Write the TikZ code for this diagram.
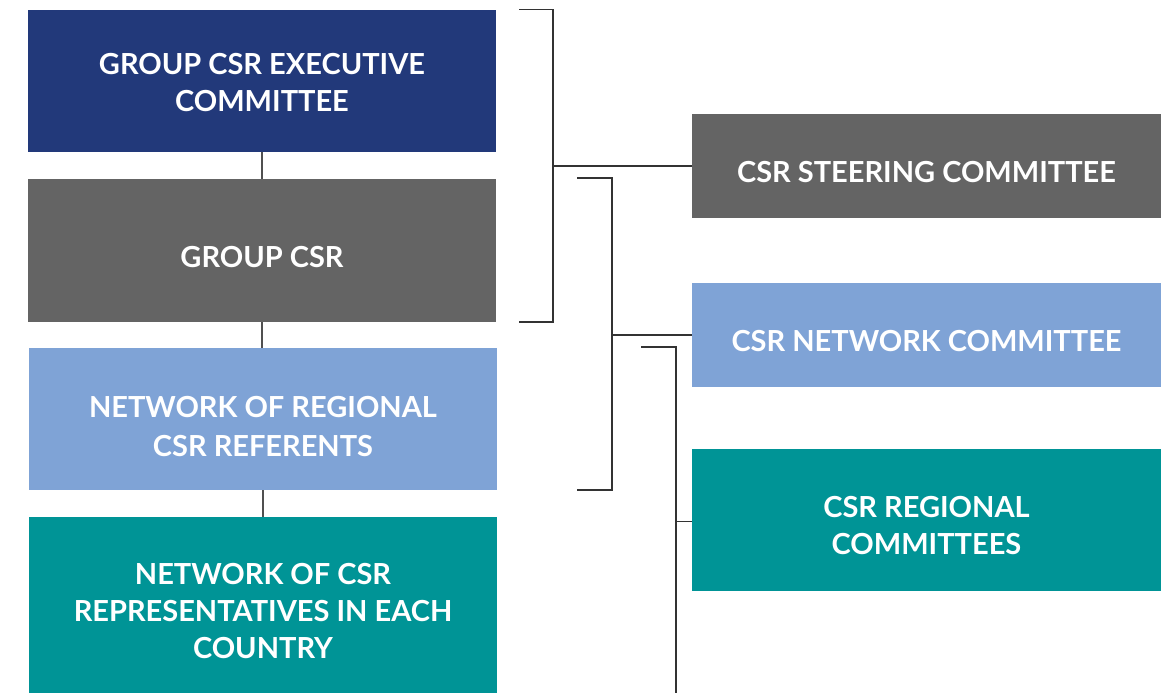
\documentclass[tikz,border=0pt]{standalone}
\usepackage{fontspec}
\setmainfont{Lato}[BoldFont={Lato Bold}]
\definecolor{cdark}{HTML}{22397A}
\definecolor{cgray}{HTML}{646464}
\definecolor{clight}{HTML}{7FA3D6}
\definecolor{cteal}{HTML}{009496}
\definecolor{cline}{HTML}{333333}
\tikzset{
  box/.style={rectangle, inner sep=0pt, minimum width=468pt},
  txt/.style={inner sep=0pt, text=white, align=center,
    font=\fontsize{29}{37}\selectfont\bfseries},
  conn/.style={draw=cline, line width=1.5pt},
}
\begin{document}
\begin{tikzpicture}[x=1pt,y=-1pt]
\useasboundingbox (0,0) rectangle (1167,693);
\clip (0,0) rectangle (1167,693);
% left column
\node[box, fill=cdark, minimum height=142pt] (b1) at (262,81) {};
\node[box, fill=cgray, minimum height=143pt] (b2) at (262,250.5) {};
\node[box, fill=clight, minimum height=142pt] (b3) at (263,419) {};
\node[box, fill=cteal, minimum height=188pt] (b4) at (263,611) {};
\node[txt] (t1) at ([yshift=-2pt]b1.center) {GROUP CSR EXECUTIVE\\COMMITTEE};
\node[txt] (t2) at ([yshift=-6.5pt]b2.center) {GROUP CSR};
\node[txt, font=\fontsize{29}{39}\selectfont\bfseries] (t3) at ([yshift=-8pt]b3.center) {NETWORK OF REGIONAL\\CSR REFERENTS};
\node[txt] (t4) at (b4.center) {NETWORK OF CSR\\REPRESENTATIVES IN EACH\\COUNTRY};
% right column
\node[box, fill=cgray, minimum width=469pt, minimum height=104pt] (r1) at (926.5,166) {};
\node[box, fill=clight, minimum width=469pt, minimum height=104pt] (r2) at (926.5,335) {};
\node[box, fill=cteal, minimum width=469pt, minimum height=142pt] (r3) at (926.5,520) {};
\node[txt] (t5) at ([yshift=-6pt]r1.center) {CSR STEERING COMMITTEE};
\node[txt] (t6) at ([yshift=-6pt]r2.center) {CSR NETWORK COMMITTEE};
\node[txt] (t7) at ([yshift=-6pt]r3.center) {CSR REGIONAL\\COMMITTEES};
% vertical links
\draw[conn, draw=cgray!80!black] (b1.south) -- (b2.north);
\draw[conn, draw=cgray!80!black] (b2.south) -- (b2.south |- b3.north);
\draw[conn, draw=cgray!80!black] (b3.south) -- (b4.north);
% bracket 1
\coordinate (k1a) at (519,9.5);
\coordinate (k1b) at (553,9.5);
\coordinate (k1c) at (553,322);
\coordinate (k1d) at (519,322);
\draw[conn] (k1a) -- (k1b) -- (k1c) -- (k1d);
\draw[conn] (k1b |- r1.west) -- (r1.west);
% bracket 2
\coordinate (k2a) at (577,178);
\coordinate (k2b) at (612,178);
\coordinate (k2c) at (612,490);
\coordinate (k2d) at (577,490);
\draw[conn] (k2a) -- (k2b) -- (k2c) -- (k2d);
\draw[conn] (k2b |- r2.west) -- (r2.west);
% bracket 3
\coordinate (k3a) at (641,347);
\coordinate (k3b) at (676,347);
\coordinate (k3c) at (676,700);
\coordinate (k3m) at (676,521.5);
\coordinate (k3r) at (r3.west |- k3m);
\draw[conn] (k3a) -- (k3b) -- (k3c);
\draw[conn] (k3m) -- (k3r);
\end{tikzpicture}
\end{document}
